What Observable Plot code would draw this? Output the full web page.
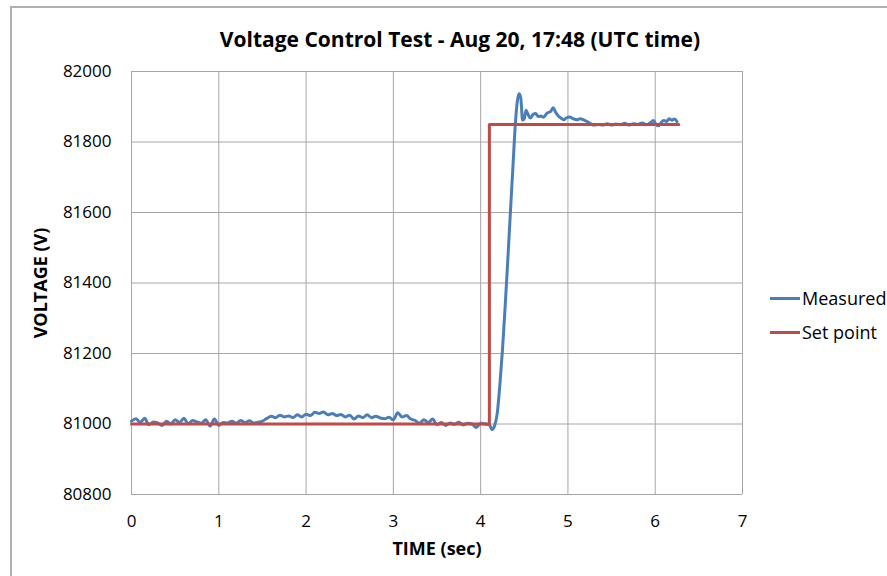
<!DOCTYPE html>
<html>
<head>
<meta charset="utf-8">
<script src="https://cdn.jsdelivr.net/npm/d3@7"></script>
<script src="https://cdn.jsdelivr.net/npm/@observablehq/plot@0.6"></script>
<style>
  html, body { margin: 0; padding: 0; background: #fff; }
  #wrap { position: relative; width: 887px; height: 576px; overflow: hidden; font-family: "Open Sans", "Liberation Sans", sans-serif; }
  #frame { position: absolute; left: 10px; top: 6px; width: 900px; height: 600px; border-left: 2px solid #b0b0b0; border-top: 2px solid #b0b0b0; box-sizing: border-box; }
  #title { position: absolute; left: 110px; width: 700px; top: 25px; text-align: center; font-weight: bold; font-size: 21px; color: #000; }
  #chart { position: absolute; left: 0; top: 0; }
  #legend { position: absolute; left: 770px; top: 281px; font-size: 18px; color: #000; }
  .item { display: flex; align-items: center; height: 34px; }
  .sw { width: 30px; height: 3px; margin-right: 2px; }
</style>
</head>
<body>
<div id="wrap">
  <div id="frame"></div>
  <div id="chart"></div>
  <div id="title">Voltage Control Test - Aug 20, 17:48 (UTC time)</div>
  <div id="legend"></div>
</div>
<script>
const xTicks = [0, 1, 2, 3, 4, 5, 6, 7];
const yTicks = [80800, 81000, 81200, 81400, 81600, 81800, 82000];
const seriesNames = ["Measured", "Set point"];
const seriesColors = ["#4a7ebb", "#be4b48"];

const measuredTime = [
  0.00,0.05,0.10,0.15,0.20,0.25,0.30,0.35,0.40,0.45,0.50,0.55,0.60,0.65,0.70,0.75,0.80,0.85,0.90,0.95,
  1.00,1.05,1.10,1.15,1.20,1.25,1.30,1.35,1.40,1.45,1.50,1.55,1.60,1.65,1.70,1.75,1.80,1.85,1.90,1.95,
  2.00,2.05,2.10,2.15,2.20,2.25,2.30,2.35,2.40,2.45,2.50,2.55,2.60,2.65,2.70,2.75,2.80,2.85,2.90,2.95,
  3.00,3.05,3.10,3.15,3.20,3.25,3.30,3.35,3.40,3.45,3.50,3.55,3.60,3.65,3.70,3.75,3.80,3.85,3.90,3.95,
  4.00,4.05,4.10,4.13,4.16,4.19,4.22,4.25,4.28,4.31,4.34,4.37,4.40,4.42,4.44,4.46,4.48,4.50,4.52,4.54,
  4.57,4.60,4.63,4.66,4.69,4.72,4.76,4.80,4.83,4.86,4.89,4.92,4.95,4.98,5.02,5.06,5.10,5.14,5.18,5.22,
  5.26,5.30,5.35,5.40,5.45,5.50,5.55,5.60,5.65,5.70,5.75,5.80,5.85,5.90,5.95,5.98,6.01,6.04,6.07,6.10,
  6.13,6.16,6.19,6.22,6.25
];
const measuredVolts = [
  81008,81015,81005,81016,80998,81006,81003,80996,81008,81000,81012,81004,81016,81000,81010,81006,81002,81012,80994,81014,
  80996,81004,81003,81008,81002,81010,81004,81009,81003,81005,81008,81016,81022,81018,81025,81020,81023,81018,81026,81020,
  81028,81024,81033,81030,81034,81026,81030,81024,81027,81020,81025,81014,81023,81018,81026,81018,81022,81017,81015,81019,
  81012,81032,81020,81024,81014,81010,81002,81012,81004,81014,80998,81004,80996,81003,80999,81005,80997,81002,81000,80990,
  81002,81000,80998,80984,80995,81030,81110,81210,81330,81460,81597,81730,81860,81915,81937,81925,81862,81866,81890,81880,
  81868,81878,81881,81872,81874,81870,81882,81886,81897,81884,81874,81868,81863,81868,81871,81866,81863,81866,81863,81858,
  81852,81848,81850,81848,81852,81848,81851,81849,81853,81848,81852,81850,81854,81849,81856,81861,81850,81846,81856,81861,
  81858,81866,81862,81865,81858
];
const setTime = [0, 4.10, 4.10, 6.27];
const setVolts = [81000, 81000, 81850, 81850];

const measured = measuredTime.map((t, i) => ({t, v: measuredVolts[i]}));
const setpoint = setTime.map((t, i) => ({t, v: setVolts[i]}));

const grid = "#a6a6a6";
const chart = Plot.plot({
  width: 887,
  height: 576,
  marginTop: 71,
  marginLeft: 131,
  marginRight: 145,
  marginBottom: 82,
  style: {fontFamily: "'Open Sans', 'Liberation Sans', sans-serif", fontSize: "17px", color: "#000", background: "transparent", overflow: "visible"},
  x: {domain: [0, 7]},
  y: {domain: [80800, 82000]},
  marks: [
    Plot.gridX(xTicks, {stroke: grid, strokeOpacity: 1, strokeWidth: 1}),
    Plot.gridY(yTicks, {stroke: grid, strokeOpacity: 1, strokeWidth: 1}),
    Plot.axisX(xTicks, {tickSize: 0, tickPadding: 20, fontSize: 17, label: null}),
    Plot.axisY(yTicks, {tickSize: 0, tickPadding: 20, fontSize: 17, tickFormat: d3.format("d"), label: null}),
    Plot.axisX({ticks: [], label: "TIME (sec)", labelAnchor: "center", labelArrow: "none", labelOffset: 60, fontSize: 18, fontWeight: "bold"}),
    Plot.axisY({ticks: [], label: "VOLTAGE (V)", labelAnchor: "center", labelArrow: "none", labelOffset: 97, fontSize: 18, fontWeight: "bold"}),
    Plot.line(measured, {x: "t", y: "v", stroke: seriesColors[0], strokeWidth: 3, curve: "monotone-x"}),
    Plot.line(setpoint, {x: "t", y: "v", stroke: seriesColors[1], strokeWidth: 3})
  ]
});
document.getElementById("chart").appendChild(chart);

const legend = document.getElementById("legend");
seriesNames.forEach((name, i) => {
  const row = document.createElement("div");
  row.className = "item";
  const sw = document.createElement("span");
  sw.className = "sw";
  sw.style.background = seriesColors[i];
  const label = document.createElement("span");
  label.textContent = name;
  row.appendChild(sw);
  row.appendChild(label);
  legend.appendChild(row);
});
</script>
</body>
</html>
